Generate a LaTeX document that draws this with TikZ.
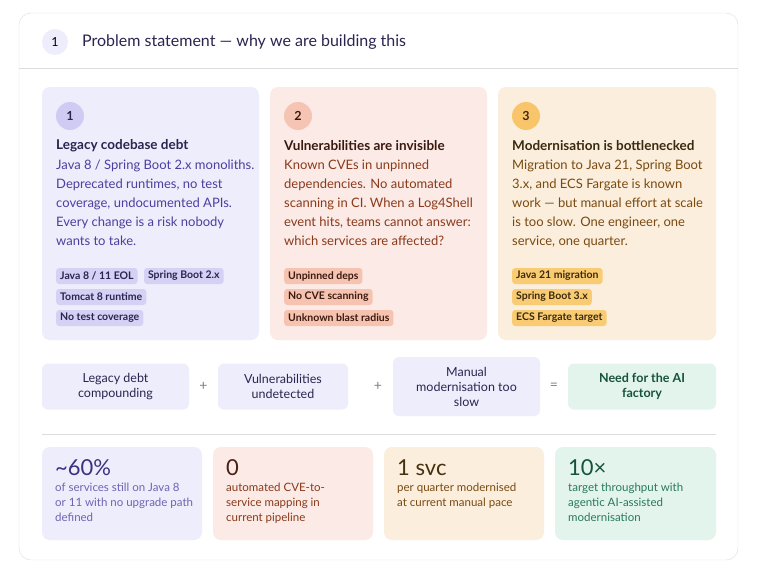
\documentclass[tikz,border=0pt]{standalone}
\usepackage{fontspec}
\setmainfont{Lato}
\usetikzlibrary{positioning}
\definecolor{edge}{HTML}{DCDCDC}
\definecolor{purBg}{HTML}{EEEDFB}
\definecolor{purTag}{HTML}{D4D1F4}
\definecolor{purDot}{HTML}{CFCBF2}
\definecolor{purHead}{HTML}{2A2550}
\definecolor{purText}{HTML}{4A3FA0}
\definecolor{redBg}{HTML}{FBEAE6}
\definecolor{redTag}{HTML}{F5C3B0}
\definecolor{redDot}{HTML}{F5C4B2}
\definecolor{redHead}{HTML}{3A1A10}
\definecolor{redText}{HTML}{8A3A1A}
\definecolor{ambBg}{HTML}{FBEEDD}
\definecolor{ambTag}{HTML}{F9CB73}
\definecolor{ambDot}{HTML}{F9C56B}
\definecolor{ambHead}{HTML}{3A2A10}
\definecolor{ambText}{HTML}{7A4A10}
\definecolor{grnBg}{HTML}{E2F4EC}
\definecolor{grnHead}{HTML}{16533F}
\definecolor{grnText}{HTML}{2A7A5A}

\begin{document}
\begin{tikzpicture}[x=1pt, y=-1pt, font=\fontsize{12}{14}\selectfont]
	\tikzstyle{cardStyle} = [rounded corners=8pt, draw=none]
	\tikzstyle{dotStyle} = [shape = circle, minimum size = 28pt, inner sep = 0pt, font=\fontsize{12.5}{14}\selectfont\bfseries]
	\tikzstyle{titleStyle} = [anchor = west, inner sep = 0pt, font=\fontsize{13.5}{15}\selectfont\bfseries]
	\tikzstyle{bodyStyle} = [anchor = north west, inner sep = 0pt, align = left, font=\fontsize{13}{19}\selectfont]
	\tikzstyle{tagStyle} = [anchor = west, rounded corners=3pt, inner xsep = 4pt, minimum height = 16pt, inner ysep = 0pt, font=\fontsize{10.5}{12}\selectfont\bfseries]
	\tikzstyle{sumStyle} = [rounded corners=6pt, align = center, inner sep = 0pt, font=\fontsize{12.5}{15}\selectfont]
	\tikzstyle{opStyle} = [text = gray, font=\fontsize{14}{15}\selectfont]
	\tikzstyle{bigStyle} = [anchor = west, inner sep = 0pt, font=\fontsize{22}{24}\selectfont]
	\tikzstyle{smallStyle} = [anchor = north west, inner sep = 0pt, align = left, font=\fontsize{11.5}{15}\selectfont]
	\useasboundingbox (0,0) rectangle (757,573);
	% frame and header
	\draw[edge, fill=white, rounded corners=12pt] (19,13) rectangle (738,560);
	\node[dotStyle, fill=purBg, minimum size = 26pt, font=\fontsize{12.5}{14}\selectfont] (hdot) at (55,42) {1};
	\node[titleStyle, font=\fontsize{16}{17}\selectfont, text=purHead] (htitle) at (82,42) {Problem statement — why we are building this};
	\draw[edge] (19,68) -- (738,68);
	% three problem cards
	\fill[cardStyle, purBg] (42,87) rectangle (259,340);
	\fill[cardStyle, redBg] (270,87) rectangle (487,340);
	\fill[cardStyle, ambBg] (498,87) rectangle (716,340);
	\node[dotStyle, fill=purDot, text=purHead] (d1) at (70,116) {1};
	\node[dotStyle, fill=redDot, text=redHead] (d2) at (298,116) {2};
	\node[dotStyle, fill=ambDot, text=ambHead] (d3) at (526,116) {3};
	\node[titleStyle, text=purHead] (t1) at (56,146) {Legacy codebase debt};
	\node[titleStyle, text=redHead] (t2) at (284,146) {Vulnerabilities are invisible};
	\node[titleStyle, text=ambHead] (t3) at (512,146) {Modernisation is bottlenecked};
	\node[bodyStyle, text=purText] (b1) at (56,160) {Java 8 / Spring Boot 2.x monoliths.\\Deprecated runtimes, no test\\coverage, undocumented APIs.\\Every change is a risk nobody\\wants to take.};
	\node[bodyStyle, text=redText] (b2) at (284,160) {Known CVEs in unpinned\\dependencies. No automated\\scanning in CI. When a Log4Shell\\event hits, teams cannot answer:\\which services are affected?};
	\node[bodyStyle, text=ambText] (b3) at (512,160) {Migration to Java 21, Spring Boot\\3.x, and ECS Fargate is known\\work — but manual effort at scale\\is too slow. One engineer, one\\service, one quarter.};
	% tags
	\node[tagStyle, fill=purTag, text=purHead] (g11) at (56,276) {Java 8 / 11 EOL};
	\node[tagStyle, fill=purTag, text=purHead, right=6pt of g11] (g12) {Spring Boot 2.x};
	\node[tagStyle, fill=purTag, text=purHead] (g13) at (56,297) {Tomcat 8 runtime};
	\node[tagStyle, fill=purTag, text=purHead] (g14) at (56,318) {No test coverage};
	\node[tagStyle, fill=redTag, text=redHead] (g21) at (284,276) {Unpinned deps};
	\node[tagStyle, fill=redTag, text=redHead] (g22) at (284,297) {No CVE scanning};
	\node[tagStyle, fill=redTag, text=redHead] (g23) at (284,318) {Unknown blast radius};
	\node[tagStyle, fill=ambTag, text=ambHead] (g31) at (512,276) {Java 21 migration};
	\node[tagStyle, fill=ambTag, text=ambHead] (g32) at (512,297) {Spring Boot 3.x};
	\node[tagStyle, fill=ambTag, text=ambHead] (g33) at (512,318) {ECS Fargate target};
	% equation row
	\node[sumStyle, fill=purBg, text=purHead, minimum width=147pt, minimum height=46pt] (s1) at (115.5,386.5) {Legacy debt\\compounding};
	\node[sumStyle, fill=purBg, text=purHead, minimum width=130pt, minimum height=46pt] (s2) at (283,386.5) {Vulnerabilities\\undetected};
	\node[sumStyle, fill=purBg, text=purHead, minimum width=147pt, minimum height=59pt] (s3) at (466.5,386.5) {Manual\\modernisation too\\slow};
	\node[sumStyle, fill=grnBg, text=grnHead, minimum width=148pt, minimum height=46pt, font=\fontsize{12.5}{15}\selectfont\bfseries] (s4) at (642,386.5) {Need for the AI\\factory};
	\node[opStyle] (p1) at (203.5,386.5) {+};
	\node[opStyle] (p2) at (378,386.5) {+};
	\node[opStyle] (p3) at (554,386.5) {=};
	\draw[edge] (42,434) -- (716,434);
	% stats row
	\fill[cardStyle, purBg] (42,447) rectangle (202,540);
	\fill[cardStyle, redBg] (213,447) rectangle (373,540);
	\fill[cardStyle, ambBg] (384,447) rectangle (544,540);
	\fill[cardStyle, grnBg] (555,447) rectangle (716,540);
	\node[bigStyle, text=purText!80!black] (n1) at (55,468) {\textasciitilde60\%};
	\node[bigStyle, text=redHead!80!redText] (n2) at (226,468) {0};
	\node[bigStyle, text=ambHead!80!ambText] (n3) at (397,468) {1 svc};
	\node[bigStyle, text=grnHead] (n4) at (568,468) {10×};
	\node[smallStyle, text=purText!80!white] (m1) at (55,483) {of services still on Java 8\\or 11 with no upgrade path\\defined};
	\node[smallStyle, text=redText] (m2) at (226,483) {automated CVE-to-\\service mapping in\\current pipeline};
	\node[smallStyle, text=ambText] (m3) at (397,483) {per quarter modernised\\at current manual pace};
	\node[smallStyle, text=grnText] (m4) at (568,483) {target throughput with\\agentic AI-assisted\\modernisation};
\end{tikzpicture}
\end{document}
